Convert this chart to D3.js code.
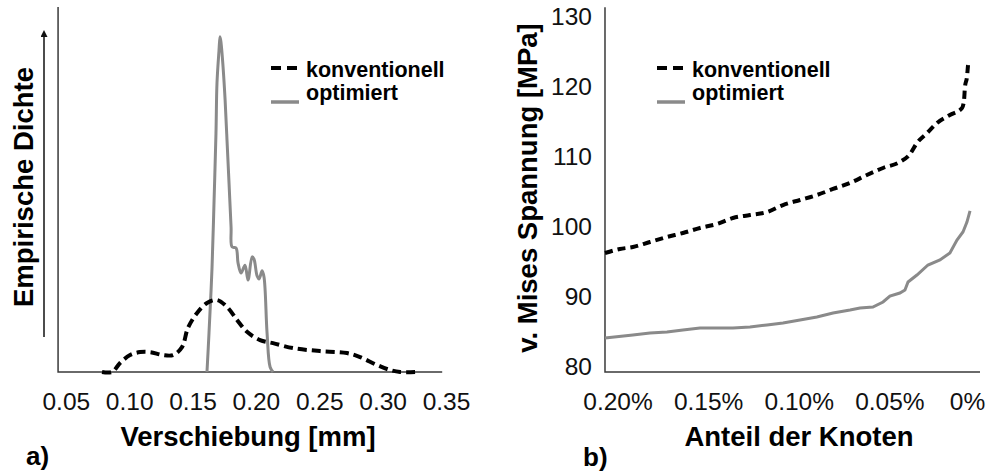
<!DOCTYPE html>
<html>
<head>
<meta charset="utf-8">
<script src="https://cdn.jsdelivr.net/npm/d3@7"></script>
<style>
  body { margin: 0; background: #fff; }
  svg { font-family: "Liberation Sans", Arial, sans-serif; }
  .tick text { fill: #111; }
</style>
</head>
<body>
<div id="chart"></div>
<script>
// panel a) empirical density of displacement [mm]
const xTicksA = [0.05, 0.10, 0.15, 0.20, 0.25, 0.30, 0.35];
const densConv = [
  [0.0786, 0], [0.0865, 0], [0.0928, 0.27], [0.1007, 0.51], [0.1086, 0.60],
  [0.1165, 0.60], [0.1267, 0.51], [0.1346, 0.51], [0.1417, 0.75], [0.1464, 1.33],
  [0.1536, 1.78], [0.1614, 2.08], [0.1693, 2.17], [0.1772, 1.96], [0.1851, 1.57],
  [0.1930, 1.21], [0.2033, 0.96], [0.2135, 0.87], [0.2293, 0.72], [0.2506, 0.63],
  [0.2719, 0.57], [0.2822, 0.45], [0.2956, 0.21], [0.3059, 0.06], [0.3138, 0],
  [0.3256, 0]
];
const densOpt = [
  [0.1614, 0], [0.1630, 1.18], [0.1654, 3.16], [0.1670, 5.18], [0.1685, 7.20],
  [0.1693, 8.71], [0.1709, 9.70], [0.1717, 10.10], [0.1725, 9.92], [0.1741, 9.19],
  [0.1757, 8.20], [0.1772, 6.99], [0.1788, 5.69], [0.1804, 4.37], [0.1812, 3.77],
  [0.1843, 3.74], [0.1859, 3.29], [0.1883, 2.98], [0.1914, 3.22], [0.1938, 2.77],
  [0.1970, 3.47], [0.1985, 3.40], [0.2009, 2.90], [0.2025, 2.80], [0.2049, 3.05],
  [0.2064, 2.86], [0.2088, 1.18], [0.2112, 0.15], [0.2135, 0]
];

// panel b) von Mises stress vs. share of nodes [%]
const xTicksB = [0.20, 0.15, 0.10, 0.05, 0];
const yTicksB = [80, 90, 100, 110, 120, 130];
const stressConv = [
  [0.2069, 96.29], [0.1987, 96.86], [0.1915, 97.14], [0.1821, 97.86], [0.1727, 98.57],
  [0.1639, 99.14], [0.1545, 99.86], [0.1451, 100.43], [0.1363, 101.29], [0.1269, 101.71],
  [0.1175, 102.14], [0.1087, 103.14], [0.0993, 103.86], [0.0900, 104.57], [0.0811, 105.43],
  [0.0717, 106.29], [0.0624, 107.43], [0.0535, 108.43], [0.0442, 109.29], [0.0386, 110.43],
  [0.0348, 112.0], [0.0292, 113.43], [0.0237, 114.86], [0.0166, 116.0], [0.0099, 117.0],
  [0.0088, 118.14], [0.0083, 120.0], [0.0072, 121.43], [0.0066, 123.14]
];
const stressOpt = [
  [0.2069, 84.14], [0.1915, 84.57], [0.1821, 84.86], [0.1727, 85.0], [0.1639, 85.29],
  [0.1545, 85.57], [0.1451, 85.57], [0.1363, 85.57], [0.1269, 85.71], [0.1175, 86.0],
  [0.1087, 86.29], [0.0993, 86.71], [0.0900, 87.14], [0.0811, 87.71], [0.0717, 88.14],
  [0.0662, 88.43], [0.0591, 88.57], [0.0535, 89.29], [0.0497, 90.14], [0.0442, 90.57],
  [0.0414, 91.0], [0.0397, 92.14], [0.0348, 93.14], [0.0287, 94.57], [0.0221, 95.29],
  [0.0166, 96.29], [0.0127, 98.14], [0.0094, 99.29], [0.0072, 100.71], [0.0055, 102.29]
];
const seriesNames = ["konventionell", "optimiert"];

const width = 990, height = 474;
const gray = "#8a8a8a", axisCol = "#3a3a3a";

const svg = d3.select("#chart").append("svg")
  .attr("width", width)
  .attr("height", height);

// ---------- panel a ----------
const xa = d3.scaleLinear().domain([0.05, 0.35]).range([65.8, 446]);
const ya = d3.scaleLinear().domain([0, 11]).range([372, 7]);

svg.append("path")
  .attr("d", `M${xa(0.0439)},${ya(11)}V${ya(0)}H${xa(0.347)}`)
  .attr("fill", "none").attr("stroke", axisCol).attr("stroke-width", 1.5);

const axA = svg.append("g")
  .attr("transform", `translate(0,${ya(0)})`)
  .call(d3.axisBottom(xa).tickValues(xTicksA).tickSize(0).tickFormat(d3.format(".2f")));
axA.select(".domain").remove();
axA.selectAll("text").attr("y", 38).attr("dy", 0)
  .style("font-size", "24.5px");

const lineA = d3.line().x(d => xa(d[0])).y(d => ya(d[1])).curve(d3.curveCatmullRom.alpha(0.5));

svg.append("path").datum(densOpt)
  .attr("d", lineA).attr("fill", "none")
  .attr("stroke", gray).attr("stroke-width", 3);

svg.append("path").datum(densConv)
  .attr("d", lineA).attr("fill", "none")
  .attr("stroke", "#000").attr("stroke-width", 4)
  .attr("stroke-dasharray", "9,5");

// y arrow + label
svg.append("defs").append("marker")
  .attr("id", "arr").attr("viewBox", "0 0 10 10")
  .attr("refX", 5).attr("refY", 10)
  .attr("markerWidth", 7).attr("markerHeight", 10)
  .attr("markerUnits", "userSpaceOnUse")
  .attr("orient", "0")
  .append("path").attr("d", "M0,10L5,0L10,10Z").attr("fill", "#111");

svg.append("line")
  .attr("x1", 44).attr("x2", 44).attr("y1", 337).attr("y2", 37)
  .attr("stroke", "#111").attr("stroke-width", 1.5)
  .attr("marker-end", "url(#arr)");

svg.append("text")
  .attr("transform", "translate(33,187) rotate(-90)")
  .attr("text-anchor", "middle")
  .style("font-size", "27.5px").style("font-weight", "bold")
  .text("Empirische Dichte");

svg.append("text")
  .attr("x", 248).attr("y", 446)
  .attr("text-anchor", "middle")
  .style("font-size", "27.5px").style("font-weight", "bold")
  .text("Verschiebung [mm]");

svg.append("text")
  .attr("x", 26).attr("y", 465)
  .style("font-size", "26px").style("font-weight", "bold")
  .text("a)");

// legend
function legend(x0, y0) {
  svg.append("line")
    .attr("x1", x0).attr("x2", x0 + 26).attr("y1", y0).attr("y2", y0)
    .attr("stroke", "#000").attr("stroke-width", 4).attr("stroke-dasharray", "10,6");
  svg.append("line")
    .attr("x1", x0).attr("x2", x0 + 28).attr("y1", y0 + 34).attr("y2", y0 + 34)
    .attr("stroke", gray).attr("stroke-width", 3.5);
  svg.selectAll(null).data(seriesNames).enter().append("text")
    .attr("x", x0 + 35)
    .attr("y", (d, i) => y0 + 9 + i * 23)
    .style("font-size", "21.5px").style("font-weight", "bold")
    .text(d => d);
}
legend(271, 68);

// ---------- panel b ----------
const xb = d3.scaleLinear().domain([0.20, 0]).range([617.5, 980]);
const yb = d3.scaleLinear().domain([80, 130]).range([367, 17]);

svg.append("path")
  .attr("d", `M${xb(0.2069)},${yb(131.4)}V${yb(79.3)}H${xb(0)}`)
  .attr("fill", "none").attr("stroke", axisCol).attr("stroke-width", 1.5);

const axBx = svg.append("g")
  .attr("transform", `translate(0,${yb(79.3)})`)
  .call(d3.axisBottom(xb).tickValues(xTicksB).tickSize(0)
    .tickFormat(d => d === 0 ? "0%" : d3.format(".2f")(d) + "%"));
axBx.select(".domain").remove();
axBx.selectAll("text").attr("y", 38).attr("dy", 0)
  .style("font-size", "24.5px");
axBx.selectAll(".tick").filter(d => d === 0).select("text").attr("x", -13);

const axBy = svg.append("g")
  .attr("transform", `translate(${xb(0.2069)},0)`)
  .call(d3.axisLeft(yb).tickValues(yTicksB).tickSize(0).tickPadding(13));
axBy.select(".domain").remove();
axBy.selectAll("text").style("font-size", "24.5px");

const lineB = d3.line().x(d => xb(d[0])).y(d => yb(d[1]));

svg.append("path").datum(stressOpt)
  .attr("d", lineB).attr("fill", "none")
  .attr("stroke", gray).attr("stroke-width", 3);

svg.append("path").datum(stressConv)
  .attr("d", lineB.curve(d3.curveMonotoneX)).attr("fill", "none")
  .attr("stroke", "#000").attr("stroke-width", 4)
  .attr("stroke-dasharray", "8,5");

svg.append("text")
  .attr("transform", "translate(537,188) rotate(-90)")
  .attr("text-anchor", "middle")
  .style("font-size", "27.5px").style("font-weight", "bold")
  .text("v. Mises Spannung [MPa]");

svg.append("text")
  .attr("x", 799).attr("y", 446)
  .attr("text-anchor", "middle")
  .style("font-size", "27.5px").style("font-weight", "bold")
  .text("Anteil der Knoten");

svg.append("text")
  .attr("x", 583).attr("y", 466)
  .style("font-size", "26px").style("font-weight", "bold")
  .text("b)");

legend(657, 68);
</script>
</body>
</html>
